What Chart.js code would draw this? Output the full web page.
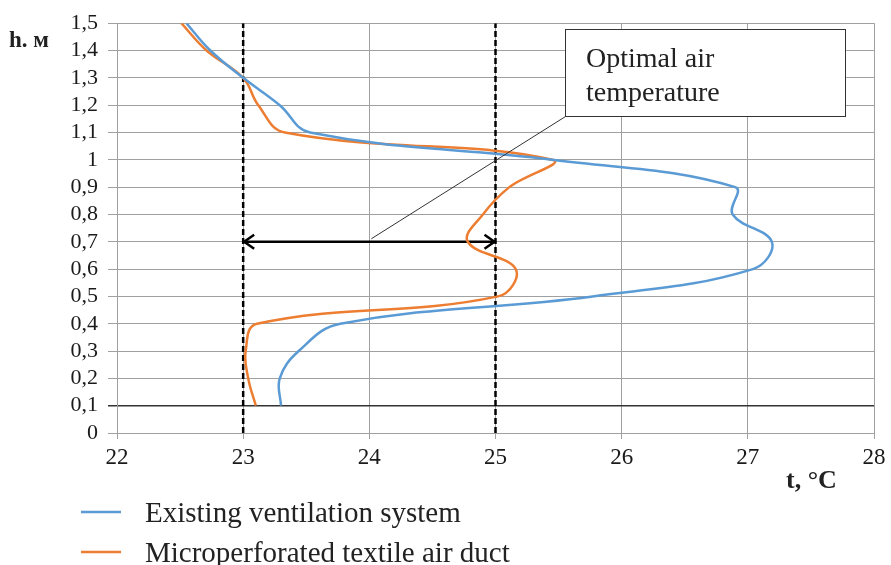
<!DOCTYPE html>
<html>
<head>
<meta charset="utf-8">
<script src="https://cdn.jsdelivr.net/npm/chart.js@4.4.1/dist/chart.umd.min.js"></script>
<style>
  html, body { margin: 0; padding: 0; background: #fff; }
  #wrap { width: 891px; height: 565px; }
</style>
</head>
<body>
<div id="wrap"><canvas id="myChart" width="891" height="565"></canvas></div>
<script>
// heights, m
let heights = [0.1, 0.2, 0.3, 0.4, 0.5, 0.6, 0.7, 0.8, 0.9, 1.0, 1.1, 1.2, 1.3, 1.4, 1.5];
// temperature, °C
let existing = [23.30, 23.29, 23.44, 23.77, 25.77, 27.04, 27.19, 26.88, 26.90, 25.45, 23.53, 23.29, 23.00, 22.74, 22.55];
let textile = [23.10, 23.04, 23.02, 23.11, 25.02, 25.16, 24.78, 24.90, 25.11, 25.45, 23.33, 23.12, 23.00, 22.71, 22.51];
let seriesNames = ["Existing ventilation system", "Microperforated textile air duct"];
let optimalRange = [23, 25];
let optimalHeight = 0.7;
let yTickLabels = ["0", "0,1", "0,2", "0,3", "0,4", "0,5", "0,6", "0,7", "0,8", "0,9", "1", "1,1", "1,2", "1,3", "1,4", "1,5"];
let xTickLabels = ["22", "23", "24", "25", "26", "27", "28"];

const SERIF = "'Liberation Serif', 'Times New Roman', serif";
Chart.defaults.font.family = SERIF;
Chart.defaults.color = "#1a1a1a";

function toPoints(ts) {
    return ts.map((t, i) => ({ x: t, y: heights[i] }));
}

// legend, titles, arrow heads and the text box
const extras = {
    id: "extras",
    afterDatasetsDraw(chart) {
        const c = chart.ctx;
        const xs = chart.scales.x, ys = chart.scales.y;
        const ay = ys.getPixelForValue(optimalHeight);
        const x1 = xs.getPixelForValue(optimalRange[0]);
        const x2 = xs.getPixelForValue(optimalRange[1]);
        const xm = xs.getPixelForValue((optimalRange[0] + optimalRange[1]) / 2);
        c.save();

        // arrow heads
        c.strokeStyle = "#000";
        c.lineWidth = 2.5;
        c.beginPath();
        c.moveTo(x1 + 11, ay - 7); c.lineTo(x1 + 1, ay); c.lineTo(x1 + 11, ay + 7);
        c.moveTo(x2 - 11, ay - 7); c.lineTo(x2 - 1, ay); c.lineTo(x2 - 11, ay + 7);
        c.stroke();

        // callout
        const bx = 565.5, by = 29.5, bw = 280, bh = 87;
        c.strokeStyle = "#333";
        c.lineWidth = 1;
        c.beginPath();
        c.moveTo(xm + 2, ay - 3);
        c.lineTo(bx, by + bh);
        c.stroke();
        c.fillStyle = "#fff";
        c.fillRect(bx, by, bw, bh);
        c.strokeRect(bx, by, bw, bh);
        c.fillStyle = "#222";
        c.font = "28px " + SERIF;
        c.textBaseline = "alphabetic";
        c.fillText("Optimal air", 586, 67);
        c.fillText("temperature", 586, 101);

        // axis titles
        c.font = "bold 23px " + SERIF;
        c.fillText("h. м", 9, 47);
        c.font = "bold 26px " + SERIF;
        c.fillText("t, °C", 786, 488);

        // legend
        const ds = chart.data.datasets;
        const rows = [512, 552];
        c.font = "29px " + SERIF;
        for (let i = 0; i < 2; i++) {
            c.strokeStyle = ds[i].borderColor;
            c.lineWidth = 2.5;
            c.beginPath();
            c.moveTo(81, rows[i]);
            c.lineTo(121, rows[i]);
            c.stroke();
            c.fillStyle = "#222";
            c.fillText(ds[i].label, 145, rows[i] + 10);
        }
        c.restore();
    },
};

let ctx = document.getElementById("myChart").getContext("2d");
let myChart = new Chart(ctx, {
    type: "scatter",
    data: {
        datasets: [
            {
                label: seriesNames[0],
                data: toPoints(existing),
                borderColor: "#5B9BD5",
                borderWidth: 2.5,
                showLine: true,
                tension: 0.4,
                pointRadius: 0,
            },
            {
                label: seriesNames[1],
                data: toPoints(textile),
                borderColor: "#ED7D31",
                borderWidth: 2.5,
                showLine: true,
                tension: 0.4,
                pointRadius: 0,
            },
            {
                label: "low",
                data: [{ x: optimalRange[0], y: 0 }, { x: optimalRange[0], y: 1.5 }],
                borderColor: "#000",
                borderWidth: 2.5,
                borderDash: [6, 3],
                showLine: true,
                pointRadius: 0,
            },
            {
                label: "high",
                data: [{ x: optimalRange[1], y: 0 }, { x: optimalRange[1], y: 1.5 }],
                borderColor: "#000",
                borderWidth: 2.5,
                borderDash: [6, 3],
                showLine: true,
                pointRadius: 0,
            },
            {
                label: "range",
                data: [{ x: optimalRange[0], y: optimalHeight }, { x: optimalRange[1], y: optimalHeight }],
                borderColor: "#000",
                borderWidth: 2.5,
                showLine: true,
                pointRadius: 0,
            },
        ],
    },
    options: {
        responsive: false,
        animation: false,
        layout: { padding: { left: 0, right: 17, top: 18, bottom: 0 } },
        plugins: { legend: { display: false }, tooltip: { enabled: false } },
        scales: {
            x: {
                type: "linear",
                min: 22,
                max: 28,
                afterFit: (s) => { s.height = 132; },
                ticks: {
                    stepSize: 1,
                    autoSkip: false,
                    maxRotation: 0,
                    padding: 5,
                    font: { family: SERIF, size: 23 },
                    callback: (v) => xTickLabels[Math.round(v - 22)],
                },
                grid: { color: "#a0a0a0", lineWidth: 1, tickLength: 6 },
                border: { color: "#a0a0a0" },
            },
            y: {
                min: 0,
                max: 1.5,
                afterFit: (s) => { s.width = 117; },
                ticks: {
                    stepSize: 0.1,
                    autoSkip: false,
                    padding: 10,
                    font: { family: SERIF, size: 22 },
                    callback: (v) => yTickLabels[Math.round(v * 10)],
                },
                grid: {
                    color: (c) => (c.tick && Math.abs(c.tick.value - 0.1) < 1e-6 ? "#333" : "#a0a0a0"),
                    lineWidth: (c) => (c.tick && Math.abs(c.tick.value - 0.1) < 1e-6 ? 1.5 : 1),
                    tickLength: 9,
                },
                border: { color: "#a0a0a0" },
            },
        },
    },
    plugins: [extras],
});
</script>
</body>
</html>
